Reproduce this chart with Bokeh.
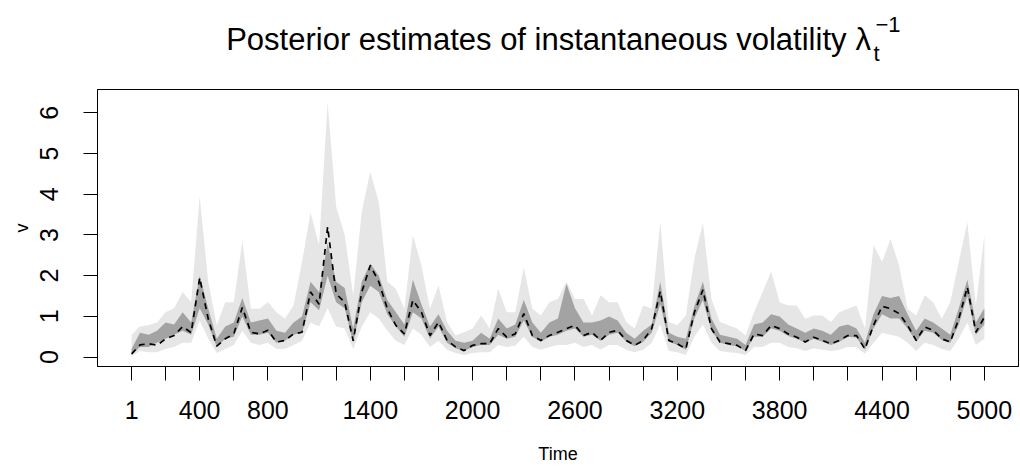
from bokeh.plotting import figure
from bokeh.models import Range1d, FixedTicker
from bokeh.layouts import column
from bokeh.core.properties import value
from bokeh.embed import file_html
from bokeh.resources import INLINE

# sampled time points
time = [1] + list(range(50, 5001, 50))

# posterior median (dashed)
mid = [0.08, 0.30, 0.33, 0.29, 0.45, 0.53, 0.75, 0.60, 1.95, 0.94,
       0.27, 0.45, 0.57, 1.22, 0.61, 0.57, 0.66, 0.37, 0.41, 0.57,
       0.61, 1.60, 1.30, 3.20, 1.55, 1.35, 0.40, 1.60, 2.25, 1.85,
       1.19, 0.78, 0.57, 1.40, 1.10, 0.53, 0.86, 0.41, 0.25, 0.16,
       0.29, 0.33, 0.33, 0.70, 0.49, 0.57, 1.07, 0.53, 0.41, 0.53,
       0.61, 0.70, 0.78, 0.53, 0.61, 0.41, 0.61, 0.66, 0.41, 0.29,
       0.41, 0.70, 1.62, 0.41, 0.33, 0.20, 1.10, 1.65, 0.70, 0.37,
       0.33, 0.29, 0.16, 0.57, 0.53, 0.78, 0.70, 0.57, 0.49, 0.37,
       0.49, 0.41, 0.33, 0.41, 0.53, 0.53, 0.20, 0.78, 1.25, 1.19,
       1.07, 0.78, 0.41, 0.74, 0.66, 0.45, 0.37, 0.94, 1.72, 0.61,
       0.98]

# wide interval (light grey)
hi_wide = [0.55, 0.75, 0.78, 0.85, 1.10, 1.20, 1.60, 1.35, 3.95, 1.85,
           0.78, 1.35, 1.35, 2.85, 1.19, 1.19, 1.35, 1.10, 0.94, 1.27,
           2.34, 3.55, 2.75, 6.25, 3.70, 3.00, 1.52, 3.57, 4.55, 3.80,
           1.85, 1.68, 1.19, 3.00, 2.25, 1.19, 1.76, 0.86, 0.53, 0.61,
           0.70, 1.02, 0.70, 1.68, 1.10, 1.10, 2.20, 1.19, 1.02, 1.35,
           1.43, 1.85, 1.43, 1.43, 1.02, 1.52, 1.35, 1.35, 0.86, 0.70,
           1.27, 1.19, 3.32, 0.86, 0.78, 1.02, 2.42, 3.30, 1.43, 0.86,
           0.78, 0.70, 0.53, 1.10, 1.60, 2.10, 1.35, 1.27, 1.27, 0.94,
           1.02, 1.02, 0.86, 1.10, 1.19, 1.27, 0.70, 2.75, 2.34, 2.90,
           2.25, 1.19, 1.02, 1.52, 1.35, 0.94, 1.35, 2.34, 3.32, 1.27,
           3.00]
lo_wide = [0.02, 0.15, 0.12, 0.12, 0.20, 0.25, 0.35, 0.35, 0.90, 0.45,
           0.10, 0.20, 0.30, 0.65, 0.35, 0.30, 0.35, 0.20, 0.20, 0.30,
           0.40, 0.85, 0.75, 1.20, 0.75, 0.70, 0.20, 0.75, 1.10, 0.95,
           0.65, 0.40, 0.30, 0.70, 0.55, 0.25, 0.40, 0.18, 0.10, 0.05,
           0.10, 0.12, 0.12, 0.30, 0.25, 0.28, 0.50, 0.25, 0.18, 0.25,
           0.30, 0.30, 0.35, 0.25, 0.30, 0.18, 0.30, 0.30, 0.18, 0.12,
           0.18, 0.35, 0.80, 0.15, 0.12, 0.05, 0.50, 0.80, 0.35, 0.15,
           0.12, 0.10, 0.05, 0.25, 0.25, 0.35, 0.35, 0.25, 0.22, 0.15,
           0.22, 0.18, 0.15, 0.18, 0.25, 0.25, 0.08, 0.35, 0.60, 0.55,
           0.50, 0.35, 0.15, 0.35, 0.30, 0.20, 0.15, 0.45, 0.85, 0.30,
           0.45]

# narrow interval (dark grey)
hi_narrow = [0.20, 0.60, 0.55, 0.65, 0.85, 0.80, 1.10, 0.85, 2.00, 1.20,
             0.45, 0.75, 0.85, 1.45, 0.85, 0.90, 0.95, 0.65, 0.60, 0.85,
             1.00, 1.85, 1.60, 2.80, 1.85, 1.70, 0.70, 1.85, 2.30, 2.00,
             1.40, 1.10, 0.80, 1.90, 1.30, 0.75, 1.05, 0.65, 0.40, 0.35,
             0.40, 0.60, 0.45, 0.95, 0.70, 0.80, 1.40, 0.85, 0.60, 0.85,
             0.95, 1.80, 1.20, 0.85, 0.85, 0.90, 1.00, 0.90, 0.60, 0.45,
             0.65, 0.80, 1.85, 0.60, 0.50, 0.45, 1.25, 1.85, 0.95, 0.55,
             0.50, 0.45, 0.30, 0.80, 0.85, 1.05, 1.00, 0.80, 0.70, 0.60,
             0.70, 0.65, 0.55, 0.75, 0.80, 0.70, 0.35, 1.05, 1.50, 1.45,
             1.50, 1.05, 0.65, 0.95, 0.85, 0.70, 0.55, 1.20, 1.90, 0.85,
             1.20]
lo_narrow = [0.05, 0.25, 0.25, 0.35, 0.45, 0.55, 0.65, 0.55, 1.20, 0.80,
             0.25, 0.45, 0.50, 1.00, 0.55, 0.55, 0.60, 0.35, 0.40, 0.55,
             0.60, 1.35, 1.15, 2.00, 1.35, 1.20, 0.35, 1.35, 1.75, 1.60,
             1.05, 0.75, 0.50, 1.10, 0.95, 0.45, 0.75, 0.35, 0.22, 0.15,
             0.25, 0.30, 0.30, 0.55, 0.45, 0.50, 0.90, 0.50, 0.38, 0.50,
             0.55, 0.65, 0.70, 0.50, 0.55, 0.40, 0.55, 0.60, 0.38, 0.27,
             0.38, 0.60, 1.30, 0.38, 0.30, 0.18, 0.95, 1.40, 0.65, 0.35,
             0.30, 0.27, 0.15, 0.50, 0.50, 0.70, 0.65, 0.52, 0.45, 0.35,
             0.45, 0.38, 0.30, 0.38, 0.50, 0.48, 0.18, 0.70, 1.05, 0.95,
             0.95, 0.70, 0.38, 0.65, 0.60, 0.42, 0.35, 0.80, 1.50, 0.55,
             0.80]

x_ticks = [1] + list(range(200, 5001, 200))
x_labels_shown = [1, 400, 800, 1400, 2000, 2600, 3200, 3800, 4400, 5000]
y_ticks = [0, 1, 2, 3, 4, 5, 6]

title_main = "Posterior estimates of instantaneous volatility"
title_sym = "\u03bb"
title_sub = "t"
title_sup = "\u22121"

FONT = "Liberation Sans"
W = 1020
LEFT, RIGHT = 97, 2

# ---- title strip (x/y in page pixels; y measured from the top) ----
tf = figure(width=W, height=89, output_backend="svg", toolbar_location=None,
            x_range=Range1d(LEFT, W - RIGHT), y_range=Range1d(89, 0),
            min_border_left=LEFT, min_border_right=RIGHT,
            min_border_top=0, min_border_bottom=0, outline_line_color=None)
tf.axis.visible = False
tf.grid.visible = False
tf.background_fill_color = "white"
tf.border_fill_color = "white"
tf.text(x=[846], y=[39], text=[title_main], text_font=value(FONT),
        text_font_size="31px", text_color="black",
        text_baseline="alphabetic", text_align="right")
tf.text(x=[855], y=[39], text=[title_sym], text_font=value(FONT),
        text_font_size="31px", text_color="black",
        text_baseline="alphabetic", text_align="left")
tf.text(x=[873], y=[53], text=[title_sub], text_font=value(FONT),
        text_font_size="22px", text_color="black",
        text_baseline="alphabetic", text_align="left")
tf.text(x=[875], y=[24], text=[title_sup], text_font=value(FONT),
        text_font_size="22px", text_color="black",
        text_baseline="alphabetic", text_align="left")

# ---- main plot ----
p = figure(width=W, height=380, output_backend="svg", toolbar_location=None,
           x_range=Range1d(-199, 5200), y_range=Range1d(-0.23, 6.57),
           min_border_left=LEFT, min_border_right=RIGHT, min_border_top=0,
           min_border_bottom=103)
p.background_fill_color = "white"
p.border_fill_color = "white"
p.outline_line_color = "black"
p.outline_line_width = 1
p.xgrid.visible = False
p.ygrid.visible = False

p.varea(x=time, y1=lo_wide, y2=hi_wide, fill_color="#e6e6e6")
p.varea(x=time, y1=lo_narrow, y2=hi_narrow, fill_color="#a3a3a3")
p.line(x=time, y=mid, line_color="black", line_width=1.7, line_dash="6 5")

xa = p.xaxis[0]
xa.ticker = FixedTicker(ticks=x_ticks)
xa.major_label_overrides = {t: (str(t) if t in x_labels_shown else "") for t in x_ticks}
xa.minor_tick_line_color = None
xa.major_tick_out = 14
xa.major_tick_in = 0
xa.major_tick_line_color = "black"
xa.axis_line_color = "black"
xa.major_label_text_font = FONT
xa.major_label_text_font_size = "25px"
xa.major_label_text_color = "black"
xa.major_label_standoff = 20
xa.axis_label = "Time"
xa.axis_label_text_font = FONT
xa.axis_label_text_font_style = "normal"
xa.axis_label_text_font_size = "18px"
xa.axis_label_text_color = "black"
xa.axis_label_standoff = 22

ya = p.yaxis[0]
ya.ticker = FixedTicker(ticks=y_ticks)
ya.minor_tick_line_color = None
ya.major_tick_out = 14
ya.major_tick_in = 0
ya.major_tick_line_color = "black"
ya.axis_line_color = "black"
ya.major_label_orientation = "vertical"
ya.major_label_text_font = FONT
ya.major_label_text_font_size = "25px"
ya.major_label_text_color = "black"
ya.major_label_standoff = 25
ya.axis_label = "v"
ya.axis_label_text_font = FONT
ya.axis_label_text_font_style = "normal"
ya.axis_label_text_font_size = "18px"
ya.axis_label_text_color = "black"
ya.axis_label_standoff = 6

layout = column(tf, p, spacing=0)
open("out.html", "w").write(file_html(layout, INLINE))
